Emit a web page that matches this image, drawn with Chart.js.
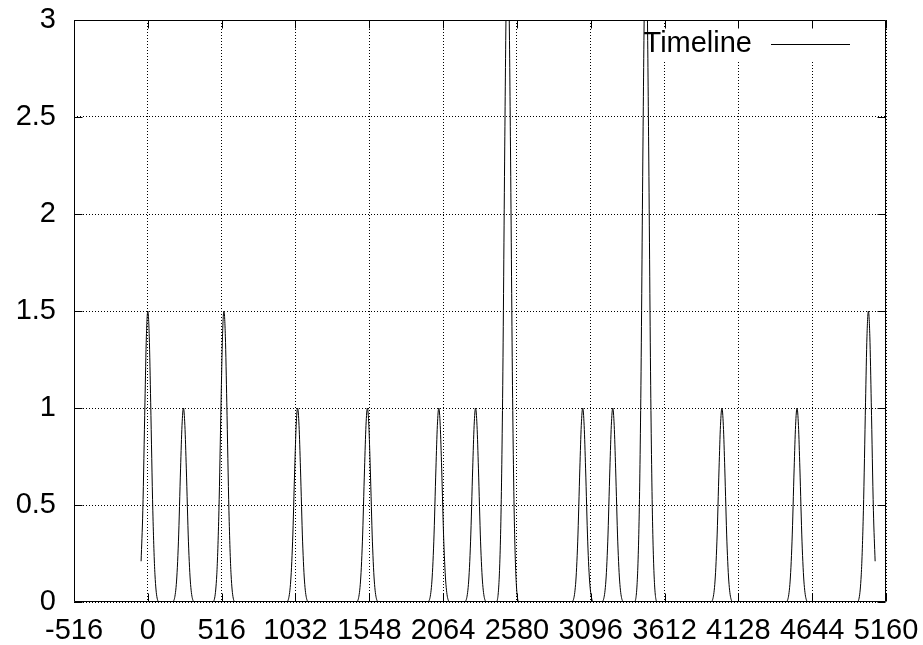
<!DOCTYPE html>
<html><head><meta charset="utf-8">
<script src="https://cdn.jsdelivr.net/npm/chart.js@4"></script>
<style>html,body{margin:0;padding:0;background:#fff;overflow:hidden}#wrap{width:923px;height:645px}</style>
</head><body><div id="wrap"><canvas id="c" width="923" height="645"></canvas></div>
<script>
const seriesName = 'Timeline';
const xTickValues = [-516, 0, 516, 1032, 1548, 2064, 2580, 3096, 3612, 4128, 4644, 5160];
const yTickValues = [0, 0.5, 1, 1.5, 2, 2.5, 3];
const timelineX = [
  -47,-35,-20,-10,0,10,20,35,50,80,
  169,199,214,229,239,249,259,269,284,299,329,
  452,482,497,512,522,532,542,552,567,582,612,
  967,997,1012,1027,1037,1047,1057,1067,1082,1097,1127,
  1455,1485,1500,1515,1525,1535,1545,1555,1570,1585,1615,
  1954,1984,1999,2014,2024,2034,2044,2054,2069,2084,2114,
  2211,2241,2256,2271,2281,2291,2301,2311,2326,2341,2371,
  2435,2465,2480,2495,2505,2515,2525,2535,2550,2565,2595,
  2960,2990,3005,3020,3030,3040,3050,3060,3075,3090,3120,
  3170,3200,3215,3230,3240,3250,3260,3270,3285,3300,3330,
  3401,3431,3446,3461,3471,3481,3491,3501,3516,3531,3561,
  3933,3963,3978,3993,4003,4013,4023,4033,4048,4063,4093,
  4458,4488,4503,4518,4528,4538,4548,4558,4573,4588,4618,
  4957,4987,5002,5017,5027,5037,5047,5057,5072,5084
];
const timelineY = [
  0.21,0.47,1.03,1.37,1.5,1.37,1.03,0.47,0.14,0,
  0,0.09,0.31,0.69,0.91,1,0.91,0.69,0.31,0.09,0,
  0,0.14,0.47,1.03,1.37,1.5,1.37,1.03,0.47,0.14,0,
  0,0.09,0.31,0.69,0.91,1,0.91,0.69,0.31,0.09,0,
  0,0.09,0.31,0.69,0.91,1,0.91,0.69,0.31,0.09,0,
  0,0.09,0.31,0.69,0.91,1,0.91,0.69,0.31,0.09,0,
  0,0.09,0.31,0.69,0.91,1,0.91,0.69,0.31,0.09,0,
  0,0.32,1.05,2.35,3.09,3.4,3.09,2.35,1.05,0.32,0,
  0,0.09,0.31,0.69,0.91,1,0.91,0.69,0.31,0.09,0,
  0,0.09,0.31,0.69,0.91,1,0.91,0.69,0.31,0.09,0,
  0,0.32,1.05,2.35,3.09,3.4,3.09,2.35,1.05,0.32,0,
  0,0.09,0.31,0.69,0.91,1,0.91,0.69,0.31,0.09,0,
  0,0.09,0.31,0.69,0.91,1,0.91,0.69,0.31,0.09,0,
  0,0.14,0.47,1.03,1.37,1.5,1.37,1.03,0.47,0.21
];

const FONT = { family: "'Liberation Sans', Arial, sans-serif", size: 29 };
const points = timelineX.map((x, i) => ({ x: x, y: timelineY[i] }));

function zeroPad(s) { s.paddingLeft = 0; s.paddingRight = 0; s.paddingTop = 0; s.paddingBottom = 0; }

const framePlugin = {
  id: 'frame',
  beforeDatasetsDraw(chart) {
    const ctx = chart.ctx;
    ctx.save();
    ctx.fillStyle = '#fff';
    ctx.fillRect(636, 27, 222, 33);
    ctx.restore();
  },
  afterDatasetsDraw(chart) {
    const { ctx, chartArea: a, scales } = chart;
    ctx.save();
    ctx.strokeStyle = '#000';
    ctx.lineWidth = 1;
    const L = Math.round(a.left) + 0.5, R = Math.round(a.right) - 0.5;
    const T = Math.round(a.top) + 0.5, B = Math.round(a.bottom) - 0.5;
    ctx.beginPath();
    ctx.rect(L, T, R - L, B - T);
    const tl = 8;
    xTickValues.forEach(v => {
      const px = Math.round(scales.x.getPixelForValue(v)) + 0.5;
      ctx.moveTo(px, B); ctx.lineTo(px, B - tl);
      ctx.moveTo(px, T); ctx.lineTo(px, T + tl);
    });
    yTickValues.forEach(v => {
      const py = Math.round(scales.y.getPixelForValue(v)) + 0.5;
      ctx.moveTo(L, py); ctx.lineTo(L + tl, py);
      ctx.moveTo(R, py); ctx.lineTo(R - tl, py);
    });
    ctx.stroke();
    // legend
    ctx.fillStyle = '#000';
    ctx.font = FONT.size + 'px ' + FONT.family;
    ctx.textAlign = 'right';
    ctx.textBaseline = 'middle';
    ctx.fillText(seriesName, 752, 44);
    ctx.beginPath();
    ctx.moveTo(771, 44.5); ctx.lineTo(850, 44.5);
    ctx.stroke();
    ctx.restore();
  }
};

new Chart(document.getElementById('c'), {
  type: 'line',
  data: {
    datasets: [{
      label: seriesName,
      data: points,
      borderColor: '#000',
      borderWidth: 1,
      pointRadius: 0,
      fill: false,
      cubicInterpolationMode: 'monotone'
    }]
  },
  options: {
    responsive: false,
    animation: false,
    devicePixelRatio: 1,
    layout: { padding: { left: 0, top: 20, right: 37, bottom: 0 } },
    plugins: { legend: { display: false }, tooltip: { enabled: false } },
    scales: {
      x: {
        type: 'linear',
        min: -516, max: 5160,
        afterBuildTicks: s => { s.ticks = xTickValues.map(v => ({ value: v })); },
        afterFit: s => { s.height = 43; zeroPad(s); },
        ticks: { font: FONT, color: '#000', padding: 12, maxRotation: 0, autoSkip: false,
                 callback: v => String(v) },
        grid: { color: '#000', lineWidth: 1, drawTicks: false },
        border: { display: false, dash: [1, 2] }
      },
      y: {
        type: 'linear',
        min: 0, max: 3,
        afterBuildTicks: s => { s.ticks = yTickValues.map(v => ({ value: v })); },
        afterFit: s => { s.width = 74; zeroPad(s); },
        ticks: { font: FONT, color: '#000', padding: 18, callback: v => String(v) },
        grid: { color: '#000', lineWidth: 1, drawTicks: false },
        border: { display: false, dash: [1, 2] }
      }
    }
  },
  plugins: [framePlugin]
});
</script>
</body></html>
